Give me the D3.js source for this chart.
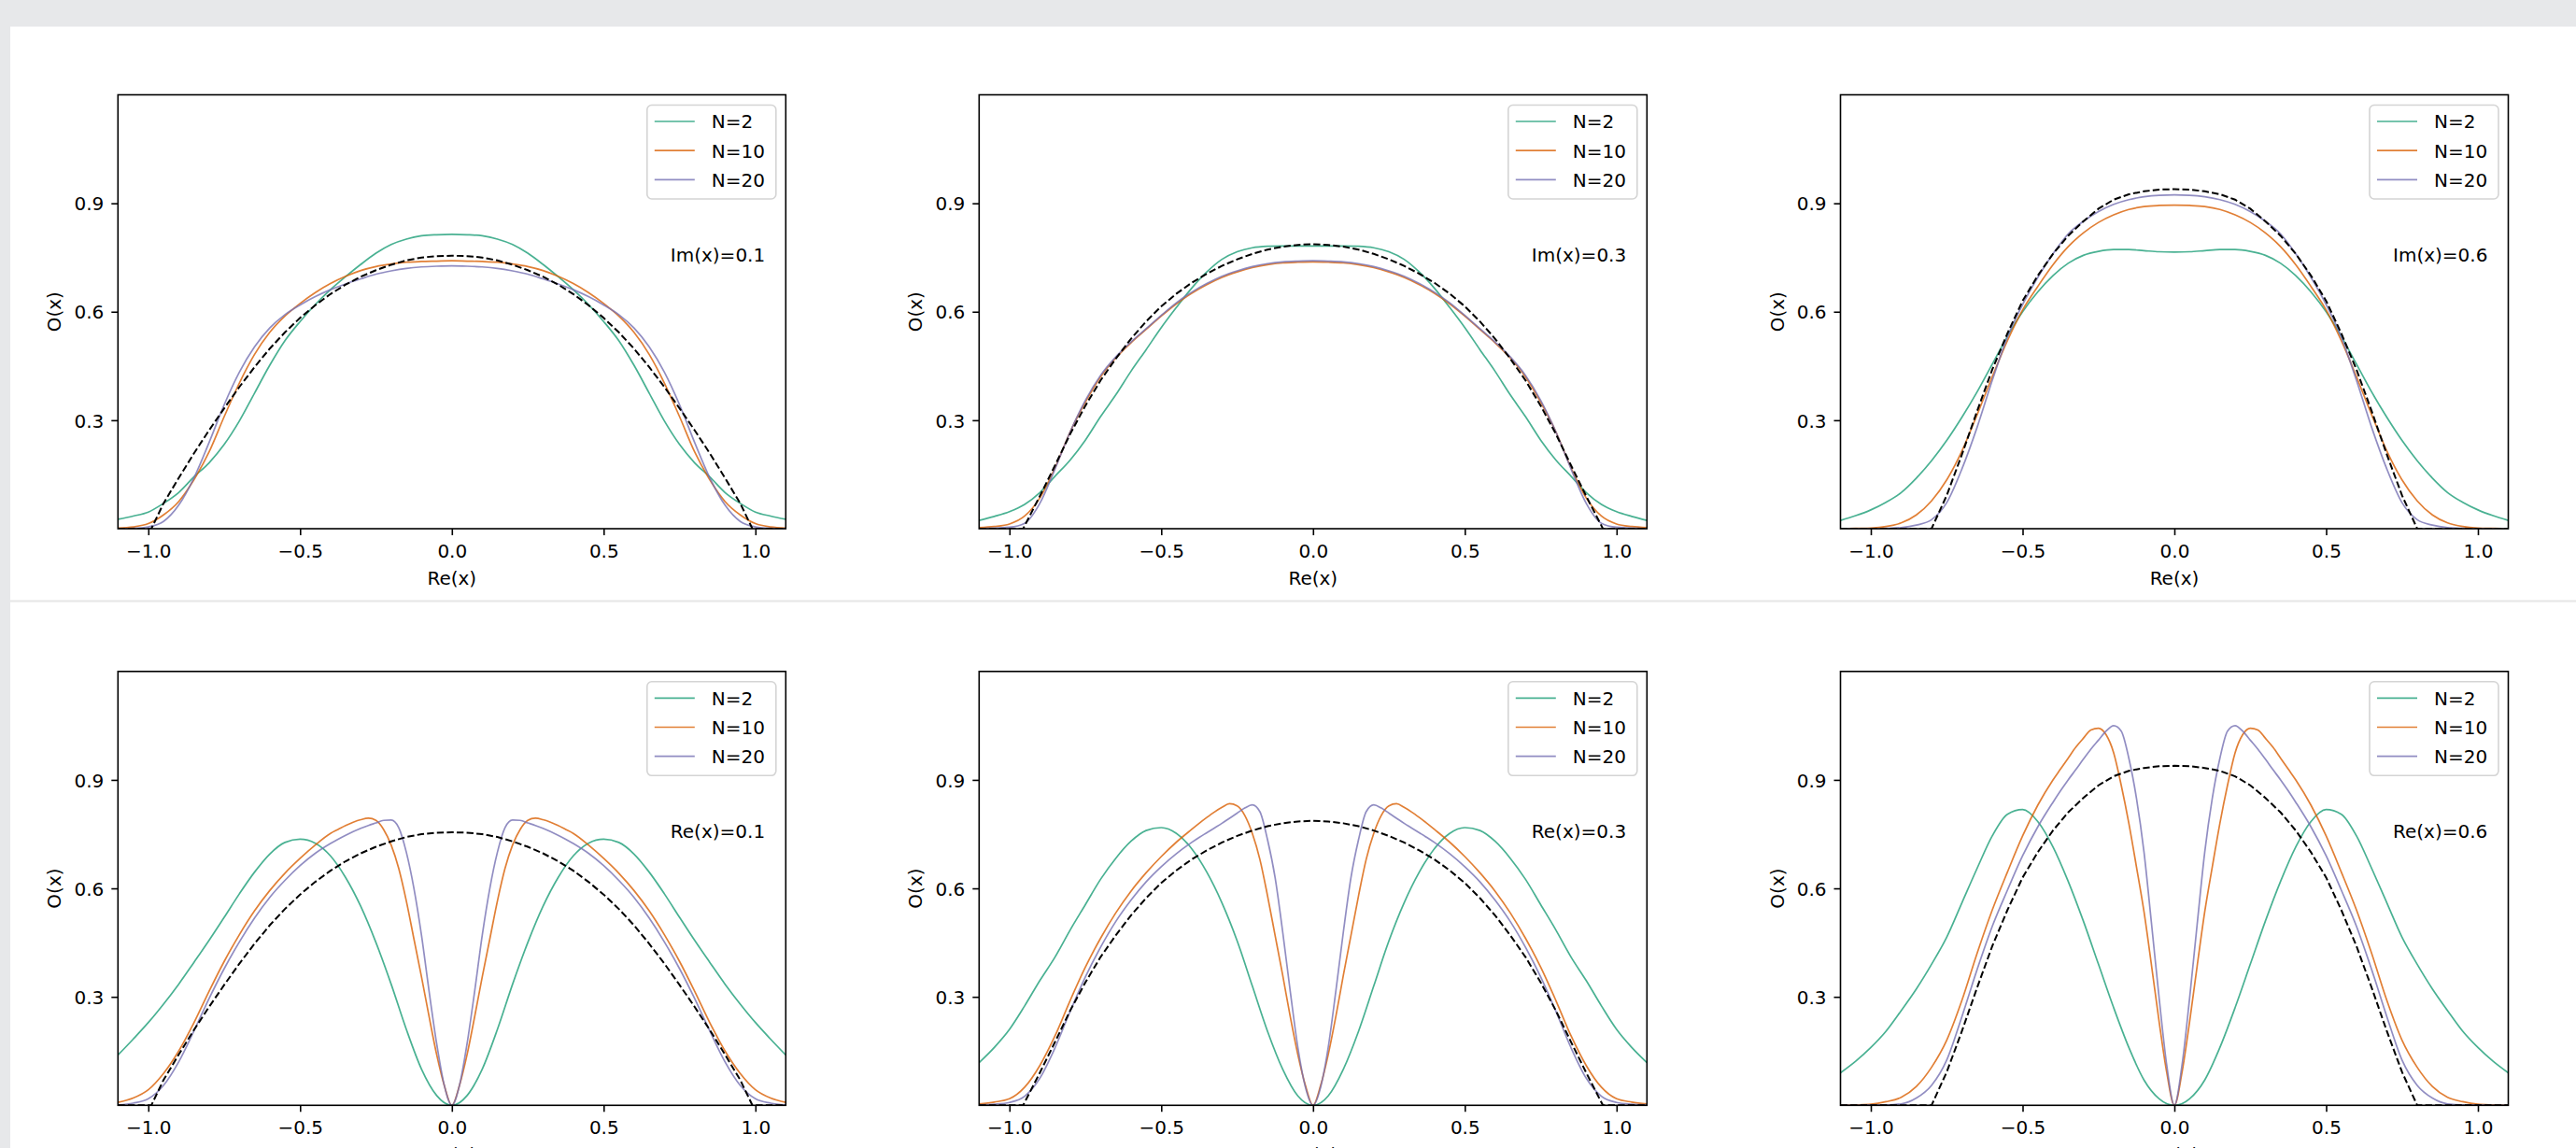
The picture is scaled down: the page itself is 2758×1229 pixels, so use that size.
<!DOCTYPE html>
<html><head><meta charset="utf-8">
<script src="https://cdn.jsdelivr.net/npm/d3@7"></script>
<style>
html,body{margin:0;padding:0;background:#fff;}
svg{display:block;}
text{font-family:"DejaVu Sans",sans-serif;fill:#000;}
</style></head><body>
<svg id="c" width="2758" height="1229"></svg>
<script>
// ---------- data ----------
const xTicks = [-1.0, -0.5, 0.0, 0.5, 1.0];
const yTicks = [0.3, 0.6, 0.9];
const seriesNames = ["N=2", "N=10", "N=20"];
const seriesColors = ["#1b9e77", "#d95f02", "#7570b3"];
const topLabels = ["Im(x)=0.1", "Im(x)=0.3", "Im(x)=0.6"];
const bottomLabels = ["Re(x)=0.1", "Re(x)=0.3", "Re(x)=0.6"];

// coarse grid
const xC = [-1.1,-1.05,-1.0,-0.95,-0.9,-0.85,-0.8,-0.75,-0.7,-0.65,-0.6,-0.55,-0.5,-0.45,-0.4,-0.35,-0.3,-0.25,-0.2,-0.15,-0.1,-0.05,0,
 0.05,0.1,0.15,0.2,0.25,0.3,0.35,0.4,0.45,0.5,0.55,0.6,0.65,0.7,0.75,0.8,0.85,0.9,0.95,1.0,1.05,1.1];
// fine grid near the centre (bottom row N=10 / N=20)
const xF = [-1.1,-1.05,-1.0,-0.95,-0.9,-0.85,-0.8,-0.75,-0.7,-0.65,-0.6,-0.55,-0.5,-0.45,-0.4,-0.375,-0.35,-0.325,-0.3,-0.275,-0.25,-0.225,-0.2,-0.175,-0.15,-0.125,-0.1,-0.075,-0.05,-0.025,0,
 0.025,0.05,0.075,0.1,0.125,0.15,0.175,0.2,0.225,0.25,0.275,0.3,0.325,0.35,0.375,0.4,0.45,0.5,0.55,0.6,0.65,0.7,0.75,0.8,0.85,0.9,0.95,1.0,1.05,1.1];

// Top row: Im(x)=0.1
const t1N2 = [0.026,0.035,0.046,0.070,0.100,0.143,0.182,0.233,0.298,0.375,0.452,0.520,0.573,0.620,0.661,0.697,0.731,0.762,0.786,0.801,0.810,0.813,0.814,
 0.813,0.810,0.801,0.786,0.762,0.731,0.697,0.661,0.620,0.573,0.520,0.452,0.375,0.298,0.233,0.182,0.143,0.100,0.070,0.046,0.035,0.026];
const t1N10 = [0.002,0.005,0.014,0.038,0.075,0.135,0.212,0.310,0.403,0.482,0.543,0.588,0.623,0.653,0.678,0.698,0.714,0.725,0.732,0.737,0.739,0.740,0.741,
 0.740,0.739,0.737,0.732,0.725,0.714,0.698,0.678,0.653,0.623,0.588,0.543,0.482,0.403,0.310,0.212,0.135,0.075,0.038,0.014,0.005,0.002];
const t1N20 = [0.000,0.001,0.005,0.020,0.065,0.140,0.238,0.343,0.433,0.503,0.555,0.592,0.619,0.642,0.661,0.677,0.691,0.704,0.713,0.720,0.724,0.726,0.727,
 0.726,0.724,0.720,0.713,0.704,0.691,0.677,0.661,0.642,0.619,0.592,0.555,0.503,0.433,0.343,0.238,0.140,0.065,0.020,0.005,0.001,0.000];
// Top row: Im(x)=0.3
const t2N2 = [0.023,0.034,0.047,0.067,0.100,0.145,0.190,0.245,0.310,0.370,0.435,0.495,0.556,0.612,0.665,0.710,0.745,0.766,0.777,0.781,0.782,0.782,0.782,
 0.782,0.782,0.781,0.777,0.766,0.745,0.710,0.665,0.612,0.556,0.495,0.435,0.370,0.310,0.245,0.190,0.145,0.100,0.067,0.047,0.034,0.023];
const t2N10 = [0.003,0.006,0.013,0.035,0.085,0.168,0.268,0.350,0.420,0.472,0.514,0.551,0.588,0.622,0.651,0.675,0.695,0.710,0.722,0.730,0.735,0.737,0.738,
 0.737,0.735,0.730,0.722,0.710,0.695,0.675,0.651,0.622,0.588,0.551,0.514,0.472,0.420,0.350,0.268,0.168,0.085,0.035,0.013,0.006,0.003];
const t2N20 = [0.000,0.002,0.004,0.015,0.070,0.165,0.268,0.355,0.424,0.475,0.516,0.553,0.590,0.625,0.654,0.678,0.698,0.713,0.725,0.733,0.738,0.740,0.741,
 0.740,0.738,0.733,0.725,0.713,0.698,0.678,0.654,0.625,0.590,0.553,0.516,0.475,0.424,0.355,0.268,0.165,0.070,0.015,0.004,0.002,0.000];
// Top row: Im(x)=0.6
const t3N2 = [0.023,0.036,0.052,0.073,0.100,0.140,0.188,0.244,0.308,0.378,0.455,0.532,0.600,0.655,0.700,0.734,0.756,0.767,0.772,0.772,0.769,0.766,0.765,
 0.766,0.769,0.772,0.772,0.767,0.756,0.734,0.700,0.655,0.600,0.532,0.455,0.378,0.308,0.244,0.188,0.140,0.100,0.073,0.052,0.036,0.023];
const t3N10 = [0.000,0.001,0.002,0.006,0.016,0.038,0.077,0.135,0.215,0.315,0.420,0.520,0.605,0.670,0.730,0.780,0.818,0.847,0.868,0.883,0.891,0.894,0.895,
 0.894,0.891,0.883,0.868,0.847,0.818,0.780,0.730,0.670,0.605,0.520,0.420,0.315,0.215,0.135,0.077,0.038,0.016,0.006,0.002,0.001,0.000];
const t3N20 = [0.000,0.000,0.000,0.001,0.003,0.010,0.025,0.072,0.165,0.280,0.410,0.530,0.620,0.695,0.760,0.815,0.850,0.877,0.897,0.910,0.918,0.922,0.923,
 0.922,0.918,0.910,0.897,0.877,0.850,0.815,0.760,0.695,0.620,0.530,0.410,0.280,0.165,0.072,0.025,0.010,0.003,0.001,0.000,0.000,0.000];

// Bottom row N=2 (coarse grid)
const b1N2 = [0.139,0.183,0.229,0.280,0.335,0.395,0.456,0.520,0.585,0.645,0.695,0.727,0.736,0.725,0.690,0.630,0.550,0.450,0.335,0.210,0.100,0.027,0.000,
 0.027,0.100,0.210,0.335,0.450,0.550,0.630,0.690,0.725,0.736,0.727,0.695,0.645,0.585,0.520,0.456,0.395,0.335,0.280,0.229,0.183,0.139];
const b2N2 = [0.118,0.160,0.210,0.275,0.345,0.410,0.485,0.555,0.625,0.683,0.730,0.760,0.768,0.752,0.710,0.645,0.560,0.455,0.330,0.205,0.100,0.026,0.000,
 0.026,0.100,0.205,0.330,0.455,0.560,0.645,0.710,0.752,0.768,0.760,0.730,0.683,0.625,0.555,0.485,0.410,0.345,0.275,0.210,0.160,0.118];
const b3N2 = [0.090,0.122,0.160,0.205,0.262,0.322,0.390,0.465,0.560,0.655,0.745,0.805,0.818,0.785,0.715,0.620,0.510,0.390,0.270,0.160,0.070,0.018,0.000,
 0.018,0.070,0.160,0.270,0.390,0.510,0.620,0.715,0.785,0.818,0.805,0.745,0.655,0.560,0.465,0.390,0.322,0.262,0.205,0.160,0.122,0.090];
// Bottom row N=10 / N=20 (fine grid)
const b1N10 = [0.008,0.020,0.043,0.088,0.150,0.228,0.315,0.398,0.472,0.538,0.594,0.642,0.683,0.720,0.752,0.763,0.774,0.783,0.790,0.794,0.788,0.763,0.720,0.655,0.565,0.460,0.355,0.245,0.140,0.055,0.000,
 0.055,0.140,0.245,0.355,0.460,0.565,0.655,0.720,0.763,0.788,0.794,0.790,0.783,0.774,0.763,0.752,0.720,0.683,0.642,0.594,0.538,0.472,0.398,0.315,0.228,0.150,0.088,0.043,0.020,0.008];
const b1N20 = [0.001,0.006,0.018,0.055,0.120,0.205,0.295,0.378,0.452,0.518,0.575,0.622,0.663,0.697,0.724,0.736,0.747,0.757,0.766,0.774,0.781,0.788,0.789,0.768,0.700,0.600,0.470,0.315,0.170,0.055,0.000,
 0.055,0.170,0.315,0.470,0.600,0.700,0.768,0.789,0.788,0.781,0.774,0.766,0.757,0.747,0.736,0.724,0.697,0.663,0.622,0.575,0.518,0.452,0.378,0.295,0.205,0.120,0.055,0.018,0.006,0.001];
const b2N10 = [0.004,0.009,0.018,0.050,0.110,0.192,0.290,0.382,0.462,0.532,0.592,0.643,0.688,0.728,0.763,0.780,0.796,0.811,0.824,0.834,0.828,0.802,0.752,0.680,0.580,0.470,0.360,0.245,0.140,0.055,0.000,
 0.055,0.140,0.245,0.360,0.470,0.580,0.680,0.752,0.802,0.828,0.834,0.824,0.811,0.796,0.780,0.763,0.728,0.688,0.643,0.592,0.532,0.462,0.382,0.290,0.192,0.110,0.050,0.018,0.009,0.004];
const b2N20 = [0.001,0.003,0.008,0.025,0.075,0.159,0.260,0.355,0.437,0.508,0.567,0.618,0.660,0.696,0.727,0.741,0.754,0.767,0.780,0.794,0.808,0.822,0.831,0.812,0.735,0.630,0.480,0.315,0.160,0.050,0.000,
 0.050,0.160,0.315,0.480,0.630,0.735,0.812,0.831,0.822,0.808,0.794,0.780,0.767,0.754,0.741,0.727,0.696,0.660,0.618,0.567,0.508,0.437,0.355,0.260,0.159,0.075,0.025,0.008,0.003,0.001];
const b3N10 = [0.000,0.001,0.003,0.010,0.022,0.052,0.105,0.180,0.290,0.420,0.540,0.645,0.745,0.830,0.900,0.930,0.960,0.990,1.015,1.038,1.043,1.025,0.975,0.885,0.780,0.660,0.535,0.385,0.230,0.090,0.000,
 0.090,0.230,0.385,0.535,0.660,0.780,0.885,0.975,1.025,1.043,1.038,1.015,0.990,0.960,0.930,0.900,0.830,0.745,0.645,0.540,0.420,0.290,0.180,0.105,0.052,0.022,0.010,0.003,0.001,0.000];
const b3N20 = [0.000,0.000,0.001,0.001,0.004,0.020,0.055,0.125,0.245,0.375,0.495,0.595,0.690,0.770,0.838,0.870,0.900,0.928,0.957,0.985,1.010,1.035,1.050,1.035,0.960,0.850,0.700,0.500,0.295,0.110,0.000,
 0.110,0.295,0.500,0.700,0.850,0.960,1.035,1.050,1.035,1.010,0.985,0.957,0.928,0.900,0.870,0.838,0.770,0.690,0.595,0.495,0.375,0.245,0.125,0.055,0.020,0.004,0.001,0.001,0.000,0.000];

// dashed reference curves (|x| = 0.1, 0.3, 0.6)
const xD1 = [-1.1,-0.99,-0.95,-0.9,-0.85,-0.8,-0.75,-0.7,-0.65,-0.6,-0.55,-0.5,-0.45,-0.4,-0.35,-0.3,-0.25,-0.2,-0.15,-0.1,-0.05,0,
 0.05,0.1,0.15,0.2,0.25,0.3,0.35,0.4,0.45,0.5,0.55,0.6,0.65,0.7,0.75,0.8,0.85,0.9,0.95,0.99,1.1];
const d1 = [0,0,0.070,0.140,0.208,0.272,0.333,0.392,0.447,0.498,0.543,0.583,0.618,0.649,0.675,0.697,0.715,0.730,0.742,0.750,0.754,0.755,
 0.754,0.750,0.742,0.730,0.715,0.697,0.675,0.649,0.618,0.583,0.543,0.498,0.447,0.392,0.333,0.272,0.208,0.140,0.070,0,0];
const xD2 = [-1.1,-0.955,-0.9,-0.85,-0.8,-0.75,-0.7,-0.65,-0.6,-0.55,-0.5,-0.45,-0.4,-0.35,-0.3,-0.25,-0.2,-0.15,-0.1,-0.05,0,
 0.05,0.1,0.15,0.2,0.25,0.3,0.35,0.4,0.45,0.5,0.55,0.6,0.65,0.7,0.75,0.8,0.85,0.9,0.955,1.1];
const d2 = [0,0,0.090,0.175,0.262,0.340,0.410,0.470,0.525,0.573,0.615,0.650,0.680,0.705,0.727,0.745,0.760,0.772,0.780,0.785,0.787,
 0.785,0.780,0.772,0.760,0.745,0.727,0.705,0.680,0.650,0.615,0.573,0.525,0.470,0.410,0.340,0.262,0.175,0.090,0,0];
const xD3 = [-1.1,-0.8,-0.75,-0.7,-0.65,-0.6,-0.55,-0.5,-0.45,-0.4,-0.35,-0.3,-0.25,-0.2,-0.15,-0.1,-0.05,0,
 0.05,0.1,0.15,0.2,0.25,0.3,0.35,0.4,0.45,0.5,0.55,0.6,0.65,0.7,0.75,0.8,1.1];
const d3v = [0,0,0.092,0.205,0.325,0.440,0.540,0.630,0.700,0.760,0.810,0.850,0.885,0.910,0.925,0.933,0.938,0.939,
 0.938,0.933,0.925,0.910,0.885,0.850,0.810,0.760,0.700,0.630,0.540,0.440,0.325,0.205,0.092,0,0];

// ---------- layout ----------
const W = 2758, Hpx = 1229;
const colLeft = [126.3, 1048.3, 1970.5];
const rowTop = [101.5, 718.8];
const AW = 715, AH = 464.5;

const panels = [
  {r:0,c:0,label:topLabels[0],xlab:"Re(x)",s:[[xC,t1N2],[xC,t1N10],[xC,t1N20]],d:[xD1,d1]},
  {r:0,c:1,label:topLabels[1],xlab:"Re(x)",s:[[xC,t2N2],[xC,t2N10],[xC,t2N20]],d:[xD2,d2]},
  {r:0,c:2,label:topLabels[2],xlab:"Re(x)",s:[[xC,t3N2],[xC,t3N10],[xC,t3N20]],d:[xD3,d3v]},
  {r:1,c:0,label:bottomLabels[0],xlab:"Im(x)",s:[[xC,b1N2],[xF,b1N10],[xF,b1N20]],d:[xD1,d1]},
  {r:1,c:1,label:bottomLabels[1],xlab:"Im(x)",s:[[xC,b2N2],[xF,b2N10],[xF,b2N20]],d:[xD2,d2]},
  {r:1,c:2,label:bottomLabels[2],xlab:"Im(x)",s:[[xC,b3N2],[xF,b3N10],[xF,b3N20]],d:[xD3,d3v]}
];

const svg = d3.select("#c");
// page chrome
svg.append("rect").attr("x",0).attr("y",0).attr("width",W).attr("height",Hpx).attr("fill","#ffffff");
svg.append("rect").attr("x",0).attr("y",0).attr("width",W).attr("height",28.5).attr("fill","#e7e8ea");
svg.append("rect").attr("x",0).attr("y",0).attr("width",11).attr("height",Hpx).attr("fill","#e7e8ea");
svg.append("rect").attr("x",11).attr("y",642.5).attr("width",W-11).attr("height",2).attr("fill","#e6e6e6");

const defs = svg.append("defs");

panels.forEach((p,i) => {
  const L = colLeft[p.c], T = rowTop[p.r];
  const x = d3.scaleLinear().domain([-1.1,1.1]).range([L, L+AW]);
  const y = d3.scaleLinear().domain([0,1.2]).range([T+AH, T]);
  const g = svg.append("g");

  defs.append("clipPath").attr("id","clip"+i)
    .append("rect").attr("x",L).attr("y",T).attr("width",AW).attr("height",AH);

  const plot = g.append("g").attr("clip-path","url(#clip"+i+")");
  p.s.forEach((pair,k) => {
    const xs = pair[0], ys = pair[1];
    const line = d3.line().x((d,j)=>x(xs[j])).y(d=>y(d)).curve(d3.curveMonotoneX);
    plot.append("path").attr("d", line(ys)).attr("fill","none")
      .attr("stroke", seriesColors[k]).attr("stroke-width",1.7).attr("stroke-opacity",0.8);
  });
  const dx = p.d[0], dy = p.d[1];
  const dline = d3.line().x((d,j)=>x(dx[j])).y(d=>y(d));
  plot.append("path").attr("d", dline(dy)).attr("fill","none")
    .attr("stroke","#000").attr("stroke-width",2).attr("stroke-dasharray","7.4,3.2");

  // axes
  const xa = d3.axisBottom(x).tickValues(xTicks).tickFormat(d3.format(".1f")).tickSize(7).tickPadding(10).tickSizeOuter(0);
  const gx = g.append("g").attr("transform",`translate(0,${T+AH})`).call(xa);
  const ya = d3.axisLeft(y).tickValues(yTicks).tickFormat(d3.format(".1f")).tickSize(7).tickPadding(8).tickSizeOuter(0);
  const gy = g.append("g").attr("transform",`translate(${L},0)`).call(ya);
  [gx,gy].forEach(a => {
    a.select(".domain").remove();
    a.selectAll(".tick line").attr("stroke","#000").attr("stroke-width",1.6);
    a.selectAll(".tick text").attr("font-size",20).attr("font-family","DejaVu Sans").attr("fill","#000");
  });
  gy.selectAll(".tick text").attr("dy","0.36em");

  g.append("rect").attr("x",L).attr("y",T).attr("width",AW).attr("height",AH)
    .attr("fill","none").attr("stroke","#000").attr("stroke-width",1.6);

  // axis labels (bottom row labels fall partly below the window, as in the reference)
  g.append("text").attr("x", L+AW/2).attr("y", T+AH+60).attr("text-anchor","middle")
    .attr("font-size",20).text(p.xlab);
  g.append("text").attr("transform",`translate(${L-61},${T+AH/2}) rotate(-90)`)
    .attr("text-anchor","middle").attr("font-size",20).text("O(x)");

  // annotation
  g.append("text").attr("x", x(0.72)).attr("y", y(0.74)).attr("font-size",20).text(p.label);

  // legend
  const lg = g.append("g").attr("transform",`translate(${L+AW-148.5},${T+11})`);
  lg.append("rect").attr("width",138).attr("height",100.5).attr("rx",5).attr("ry",5)
    .attr("fill","#fff").attr("fill-opacity",0.8).attr("stroke","#d4d4d4").attr("stroke-width",1.6);
  seriesNames.forEach((nm,k) => {
    const yy = 17.5 + k*31.2;
    lg.append("line").attr("x1",8).attr("x2",51).attr("y1",yy).attr("y2",yy)
      .attr("stroke",seriesColors[k]).attr("stroke-width",1.7).attr("stroke-opacity",0.8);
    lg.append("text").attr("x",69).attr("y",yy+7.3).attr("font-size",20).text(nm);
  });
});
</script>
</body></html>
